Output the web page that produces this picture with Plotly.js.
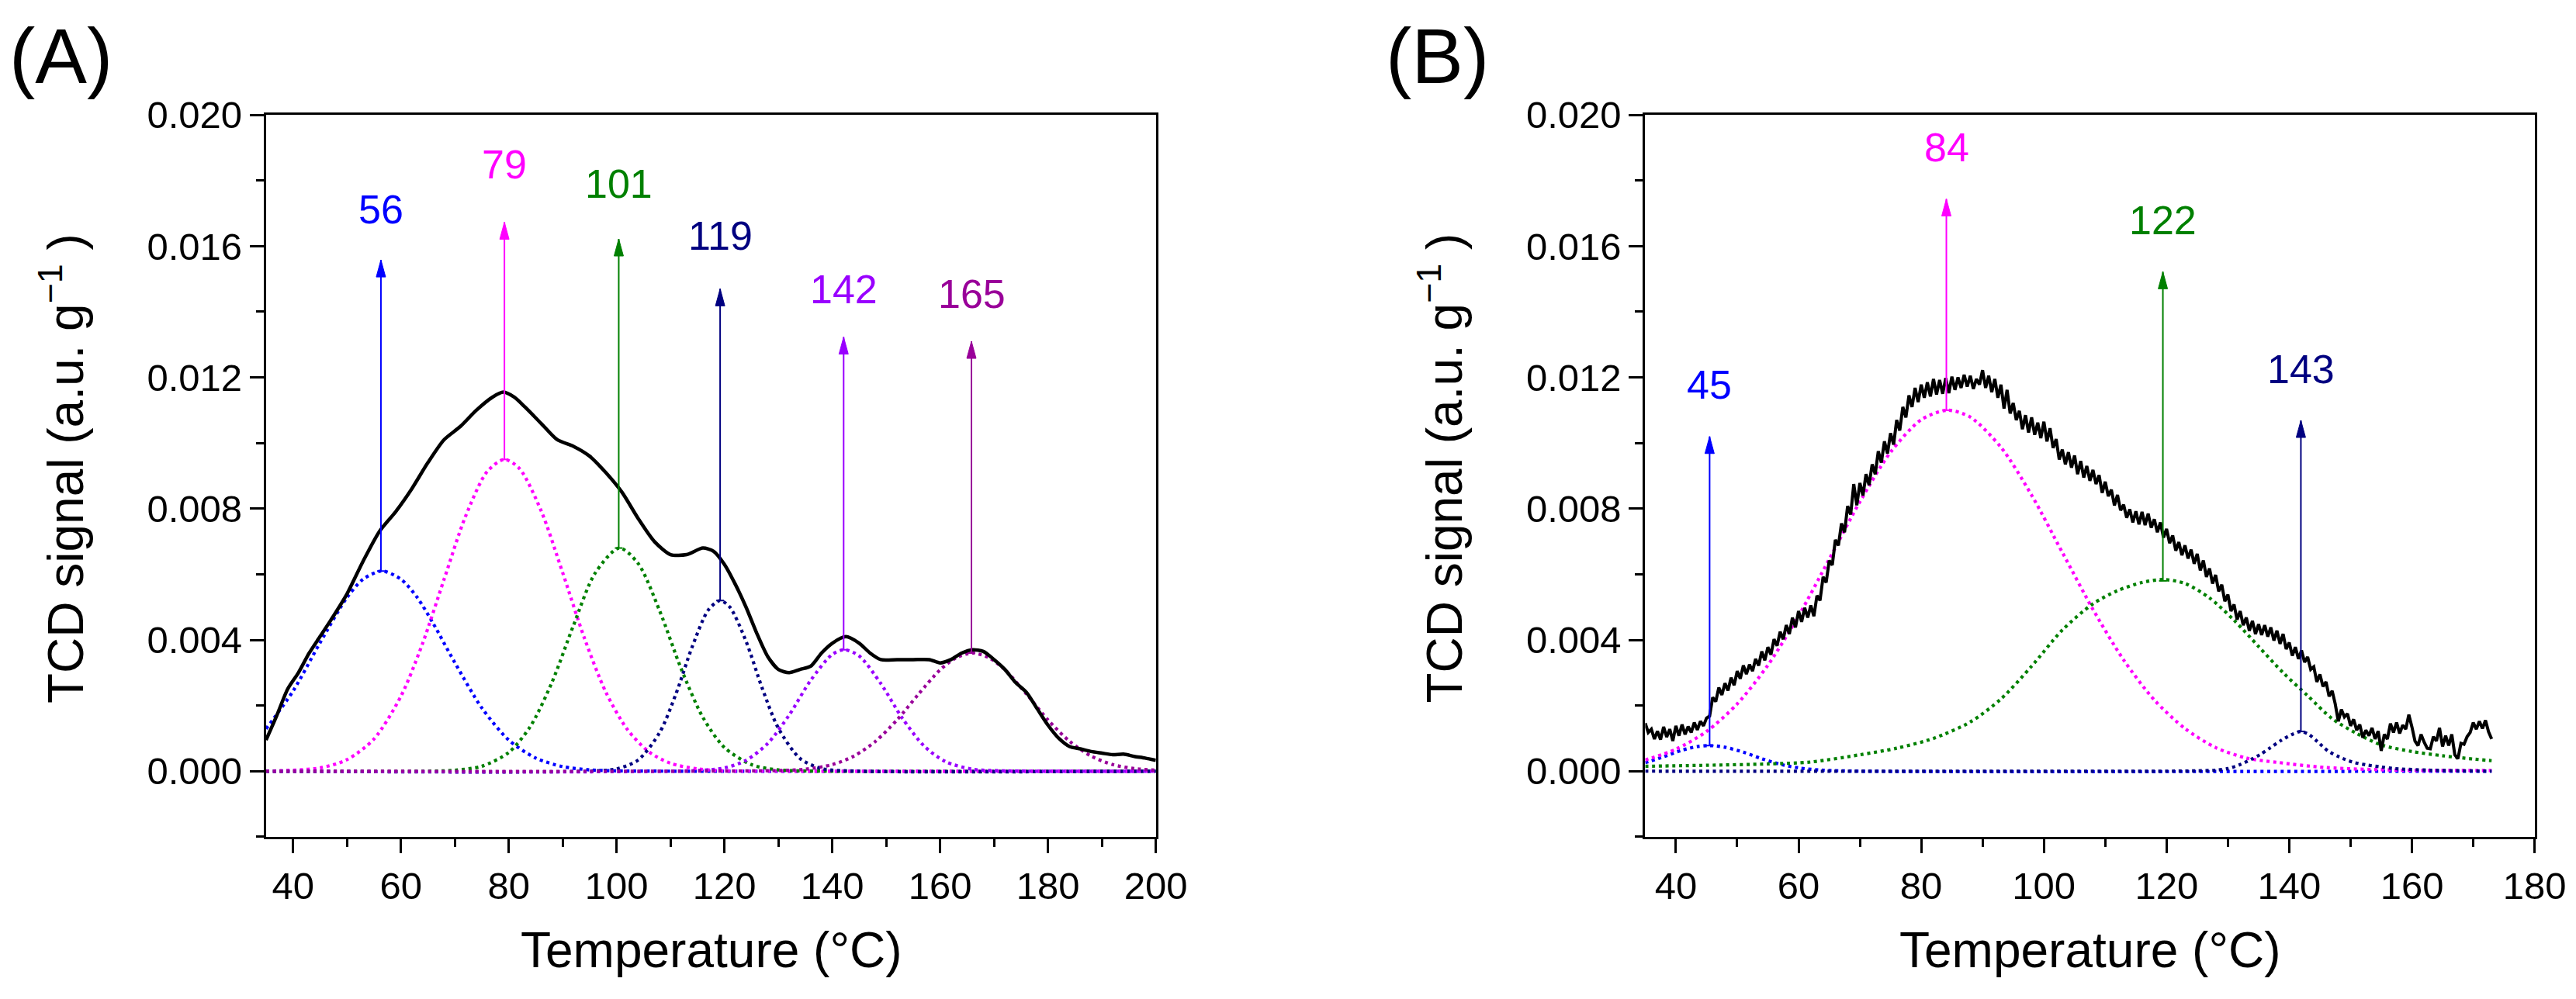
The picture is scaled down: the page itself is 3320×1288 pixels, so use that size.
<!DOCTYPE html>
<html>
<head>
<meta charset="utf-8">
<script src="https://cdn.plot.ly/plotly-3.0.1.min.js"></script>
<style>html,body{margin:0;padding:0;background:#fff;}#chart{width:3320px;height:1288px;}</style>
</head>
<body>
<div id="chart"></div>
<script>
// ---------------- Panel A data ----------------
const xA_black = [35,37,39,41,43,45,47,50,53,56,59,62,65,68,71,74,77,79,81,83,86,89,92,95,98,101,104,107,110,113,116,118,120,122,124,126,128,130,132,134,136,138,140,142.5,145,147,149,152,155,158,160,162,164,166,168,170,172,174,176,178,180,182,184,186,188,190,192,194,196,198,200];
const yA_black = [0.00095,0.0017,0.0025,0.0030,0.0036,0.0041,0.0046,0.0054,0.0064,0.0073,0.0079,0.0086,0.0094,0.0101,0.0105,0.0110,0.0114,0.01155,0.0114,0.0111,0.0106,0.0101,0.0099,0.0096,0.0091,0.0085,0.0077,0.0070,0.0066,0.0066,0.0068,0.0067,0.0063,0.0057,0.0050,0.0042,0.0035,0.0031,0.0030,0.0031,0.0032,0.0036,0.0039,0.0041,0.0039,0.0036,0.0034,0.0034,0.0034,0.0034,0.0033,0.0034,0.0036,0.0037,0.00365,0.0034,0.0031,0.0027,0.0024,0.0019,0.0014,0.0010,0.00075,0.00068,0.0006,0.00055,0.0005,0.00052,0.00045,0.0004,0.00033];

const xA_p56 = [35,40,45,50,53,56.5,60,63,66,70,75,80,85,90,95,100,110,200];
const yA_p56 = [0.00129,0.00244,0.00391,0.00529,0.00585,0.0061,0.00585,0.0053,0.0045,0.00331,0.00193,0.00095,0.0004,0.00014,0.00004,0.00001,0,0];
const xA_p79 = [35,45,50,55,60,64,68,72,76,79.2,82,86,90,94,98,102,106,110,115,120,130,200];
const yA_p79 = [0,0.0001,0.00035,0.00098,0.00228,0.00388,0.00584,0.00777,0.00913,0.0095,0.00922,0.00794,0.00605,0.00407,0.00241,0.00127,0.00059,0.00024,0.00007,0.00001,0,0];
const xA_p101 = [35,65,70,75,80,84,88,92,96,100.5,104,108,112,116,120,125,130,140,200];
const yA_p101 = [0,0,0.00003,0.00015,0.00057,0.00136,0.0027,0.00444,0.00603,0.0068,0.00633,0.00488,0.00311,0.00164,0.00072,0.0002,0.00004,0,0];
const xA_p119 = [35,95,100,104,108,111,114,117,119.2,121,124,127,130,134,138,145,200];
const yA_p119 = [0,0,0.00007,0.00034,0.00118,0.00235,0.00378,0.00491,0.0052,0.005,0.00396,0.00253,0.00131,0.00039,0.00008,0,0];
const xA_p142 = [35,115,120,124,128,132,136,140,142.3,145,149,153,157,161,166,172,200];
const yA_p142 = [0,0.00002,0.0001,0.00033,0.00084,0.00171,0.00277,0.00356,0.0037,0.00351,0.00267,0.00161,0.00077,0.00029,0.00006,0.00001,0];
const xA_p165 = [35,130,135,140,144,148,152,156,160,163,166,169,172,176,180,184,188,192,196,200];
const yA_p165 = [0,0.00002,0.00006,0.0002,0.00046,0.00091,0.00156,0.00235,0.00309,0.00346,0.0036,0.00346,0.00309,0.00235,0.00156,0.00091,0.00046,0.0002,0.00008,0.00003];

const peaksA_x = [56.3,79.2,100.4,119.2,142.1,165.8];
const peaksA_base = [0.0061,0.0095,0.0068,0.0052,0.0037,0.0036];
const peaksA_tip = [0.01558,0.01673,0.01622,0.0147,0.01323,0.0131];
const peaksA_labelY = [0.0161,0.01747,0.01688,0.0153,0.01367,0.01353];
const peaksA_labels = ['56','79','101','119','142','165'];
const colorsA = ['#0000FF','#FF00FF','#008000','#000080','#9900FF','#990099'];

// ---------------- Panel B data ----------------
const xB_start = 35, xB_step = 0.5;
const yB_black = [
0.00146,0.00118,0.00128,0.00098,0.00122,0.00096,0.00135,0.00104,0.00128,0.00092,
0.00138,0.00108,0.00142,0.00112,0.00136,0.00118,0.00148,0.00126,0.00152,0.00138,
0.00162,0.00168,0.00225,0.00212,0.00255,0.00232,0.00268,0.00246,0.00285,0.00262,
0.00305,0.00282,0.00322,0.00296,0.00325,0.00305,0.00342,0.00322,0.00365,0.00338,
0.00378,0.00355,0.00402,0.00382,0.00425,0.00402,0.00445,0.00418,0.00468,0.00438,
0.00488,0.00455,0.00498,0.00468,0.00505,0.00472,0.00535,0.0052,0.00592,0.00575,
0.00642,0.00628,0.00705,0.00688,0.00755,0.00728,0.00808,0.00782,0.00875,0.0081,
0.00878,0.0084,0.00905,0.00872,0.00935,0.00905,0.00975,0.0094,0.01005,0.00968,
0.0103,0.00995,0.0107,0.01038,0.0111,0.01078,0.01145,0.0111,0.01168,0.01125,
0.01178,0.01138,0.01185,0.01142,0.01195,0.01148,0.01192,0.0115,0.01198,0.01152,
0.01202,0.01162,0.012,0.01168,0.01208,0.01172,0.01205,0.01165,0.01195,0.01178,
0.01222,0.01168,0.01205,0.01155,0.01195,0.01138,0.01178,0.01105,0.01162,0.0109,
0.01122,0.0107,0.01098,0.01042,0.01085,0.01032,0.01078,0.01025,0.01062,0.01015,
0.01065,0.01005,0.01045,0.00985,0.01012,0.0095,0.0098,0.00935,0.00972,0.00925,
0.00962,0.00905,0.00945,0.00895,0.0093,0.00885,0.00918,0.00875,0.00902,0.00848,
0.00882,0.00838,0.00858,0.0081,0.00842,0.00795,0.00812,0.00772,0.00798,0.00758,
0.00792,0.00752,0.0079,0.0075,0.00785,0.00742,0.00768,0.00728,0.00758,0.00712,
0.00738,0.00695,0.00718,0.00672,0.00698,0.00658,0.00688,0.00648,0.00675,0.00632,
0.00662,0.00612,0.00642,0.00592,0.00618,0.00572,0.00598,0.00548,0.00568,0.00518,
0.00538,0.00488,0.00508,0.00462,0.00488,0.00445,0.00468,0.00428,0.00458,0.00418,
0.00448,0.00415,0.00445,0.0041,0.00438,0.00398,0.00428,0.00388,0.00418,0.00372,
0.00392,0.00352,0.00378,0.00342,0.00368,0.00332,0.00348,0.0031,0.00318,0.00272,
0.00295,0.00258,0.00272,0.00228,0.00245,0.00205,0.00152,0.00188,0.00165,0.00175,
0.00138,0.00158,0.00125,0.00142,0.00102,0.00125,0.00108,0.00132,0.00098,0.00122,
0.00062,0.00112,0.00098,0.00145,0.00118,0.00148,0.00115,0.0014,0.00128,0.00172,
0.00135,0.00092,0.00078,0.00112,0.00088,0.0007,0.00068,0.00105,0.00092,0.00132,
0.00075,0.00108,0.00078,0.00112,0.0005,0.00038,0.00085,0.00082,0.00105,0.00118,
0.00148,0.00128,0.00152,0.0013,0.00155,0.0012,0.00098];

const xB_p45 = [35,38,41,43.5,45.5,48,51,54,57,60,64,70,173];
const yB_p45 = [0.00026,0.00044,0.00064,0.00075,0.00078,0.00073,0.00058,0.00038,0.00021,0.0001,0.00003,0,0];
const xB_p84 = [35,40,45,50,55,60,65,70,75,80,84.3,88,93,98,103,108,113,118,123,128,133,138,146,158,173];
const yB_p84 = [0.00034,0.00067,0.00121,0.00205,0.00323,0.00473,0.00646,0.00821,0.00972,0.01071,0.0110,0.01079,0.00987,0.00841,0.00667,0.00493,0.00339,0.00217,0.0013,0.00072,0.0004,0.00027,0.00011,0.00003,0.00002];
const xB_p122 = [35,45,55,62,70,76,82,88,93,98,103,108,112,116,119.5,123,127,131,135,139,143,147,151,155,160,165,170,173];
const yB_p122 = [0.00015,0.00018,0.00022,0.00028,0.0005,0.0007,0.001,0.0015,0.0022,0.0032,0.0043,0.0051,0.0055,0.00575,0.00584,0.00572,0.00528,0.0046,0.0038,0.003,0.0023,0.0016,0.00115,0.0008,0.0006,0.00047,0.00037,0.00032];
const xB_p143 = [35,120,125,128,130,132,133.9,135.2,136.8,138.7,140.6,141.9,143.2,144.6,146.3,148.2,150.3,152.6,154.9,157.1,163,173];
const yB_p143 = [0,0,0.00001,0.00003,0.00008,0.0002,0.00037,0.0005,0.0007,0.00094,0.00113,0.00121,0.00112,0.0009,0.00062,0.00043,0.00028,0.00019,0.00013,0.00008,0.00003,0];

const peaksB_x = [45.5,84.1,119.4,141.9];
const peaksB_base = [0.00078,0.011,0.0058,0.00121];
const peaksB_tip = [0.0102,0.01744,0.01522,0.01069];
const peaksB_labelY = [0.01075,0.0180,0.01577,0.01123];
const peaksB_labels = ['45','84','122','143'];
const colorsB = ['#0000FF','#FF00FF','#008000','#000080'];

const yTickVals = [0,0.004,0.008,0.012,0.016,0.020];

// ---------------- build ----------------
const FONT = 'Arial, "Liberation Sans", sans-serif';
const dotLine = (c) => ({color:c, width:4.2, dash:'4px,4.7px', shape:'spline', smoothing:0.8});

const traces = [];
[[xA_p56,yA_p56],[xA_p79,yA_p79],[xA_p101,yA_p101],[xA_p119,yA_p119],[xA_p142,yA_p142],[xA_p165,yA_p165]].forEach((d,i)=>{
  traces.push({x:d[0], y:d[1], type:'scatter', mode:'lines', line:dotLine(colorsA[i]), xaxis:'x', yaxis:'y', hoverinfo:'skip'});
});
traces.push({x:xA_black, y:yA_black, type:'scatter', mode:'lines', line:{color:'#000', width:4.5, shape:'spline', smoothing:0.7}, xaxis:'x', yaxis:'y'});

[[xB_p45,yB_p45],[xB_p84,yB_p84],[xB_p122,yB_p122],[xB_p143,yB_p143]].forEach((d,i)=>{
  traces.push({x:d[0], y:d[1], type:'scatter', mode:'lines', line:dotLine(colorsB[i]), xaxis:'x2', yaxis:'y2', hoverinfo:'skip'});
});
traces.push({x0:xB_start, dx:xB_step, y:yB_black, type:'scatter', mode:'lines', line:{color:'#000', width:4}, xaxis:'x2', yaxis:'y2'});

const shapes = [];
const annotations = [];
function addArrows(xs, bases, tips, labelYs, labels, colors, xref, yref){
  xs.forEach((x,i)=>{
    shapes.push({type:'line', xref:xref, yref:yref, x0:x, x1:x, y0:bases[i], y1:tips[i], line:{color:colors[i], width:2}});
    shapes.push({type:'path', xref:xref, yref:yref, xsizemode:'pixel', ysizemode:'pixel', xanchor:x, yanchor:tips[i],
      path:'M0,0L-6,-22L6,-22Z', fillcolor:colors[i], line:{color:colors[i], width:1}});
    shapes.push({type:'line', xref:xref, yref:yref, xsizemode:'pixel', xanchor:x, x0:-5, x1:5, y0:bases[i], y1:bases[i], line:{color:colors[i], width:2}});
    annotations.push({xref:xref, yref:yref, x:x, y:labelYs[i], text:labels[i], showarrow:false, xanchor:'center', yanchor:'bottom', yshift:12,
      font:{family:FONT, size:52, color:colors[i]}});
  });
}
addArrows(peaksA_x, peaksA_base, peaksA_tip, peaksA_labelY, peaksA_labels, colorsA, 'x', 'y');
addArrows(peaksB_x, peaksB_base, peaksB_tip, peaksB_labelY, peaksB_labels, colorsB, 'x2', 'y2');

const titleFont = {family:FONT, size:64, color:'#000'};
annotations.push({xref:'paper', yref:'paper', x:0.2762, y:0.0491, text:'Temperature (°C)', showarrow:false, xanchor:'center', yanchor:'middle', font:titleFont});
annotations.push({xref:'paper', yref:'paper', x:0.8113, y:0.0491, text:'Temperature (°C)', showarrow:false, xanchor:'center', yanchor:'middle', font:titleFont});
annotations.push({xref:'paper', yref:'paper', x:0.0241, y:0.531, text:'TCD signal (a.u. g<sup>−1</sup> )', textangle:-90, showarrow:false, xanchor:'center', yanchor:'middle', font:titleFont});
annotations.push({xref:'paper', yref:'paper', x:0.5595, y:0.531, text:'TCD signal (a.u. g<sup>−1</sup> )', textangle:-90, showarrow:false, xanchor:'center', yanchor:'middle', font:titleFont});
annotations.push({xref:'paper', yref:'paper', x:0.0236, y:0.9441, text:'(A)', showarrow:false, xanchor:'center', yanchor:'middle', font:{family:FONT, size:100, color:'#000'}});
annotations.push({xref:'paper', yref:'paper', x:0.5581, y:0.9441, text:'(B)', showarrow:false, xanchor:'center', yanchor:'middle', font:{family:FONT, size:100, color:'#000'}});

const tickFont = {family:FONT, size:49, color:'#000'};
function xAxis(domain, range, anchor){
  return {domain:domain, range:range, anchor:anchor, showline:true, linewidth:3, linecolor:'#000', mirror:true,
    ticks:'outside', ticklen:18, tickwidth:3, tickcolor:'#000', tick0:0, dtick:20, tickfont:tickFont,
    minor:{dtick:10, ticklen:10, tickwidth:3, tickcolor:'#000', ticks:'outside', showgrid:false},
    showgrid:false, zeroline:false, fixedrange:true};
}
function yAxis(anchor){
  return {domain:[0.16203,0.88533], range:[-0.00201,0.02001], anchor:anchor, showline:true, linewidth:3, linecolor:'#000', mirror:true,
    ticks:'outside', ticklen:18, tickwidth:3, tickcolor:'#000', tickmode:'array', tickvals:yTickVals, tickformat:'.3f', tickfont:tickFont,
    minor:{dtick:0.002, tick0:0, ticklen:10, tickwidth:3, tickcolor:'#000', ticks:'outside', showgrid:false},
    showgrid:false, zeroline:false, fixedrange:true};
}

const layout = {
  width:3320, height:1288,
  margin:{l:0, r:0, t:0, b:0},
  paper_bgcolor:'#fff', plot_bgcolor:'#fff',
  showlegend:false,
  font:{family:FONT, color:'#000'},
  xaxis: xAxis([0.10328,0.44871],[35,200],'y'),
  yaxis: yAxis('x'),
  xaxis2: xAxis([0.63867,0.98392],[35,180],'y2'),
  yaxis2: yAxis('x2'),
  shapes: shapes,
  annotations: annotations
};

Plotly.newPlot('chart', traces, layout, {staticPlot:true, displayModeBar:false});
</script>
</body>
</html>
